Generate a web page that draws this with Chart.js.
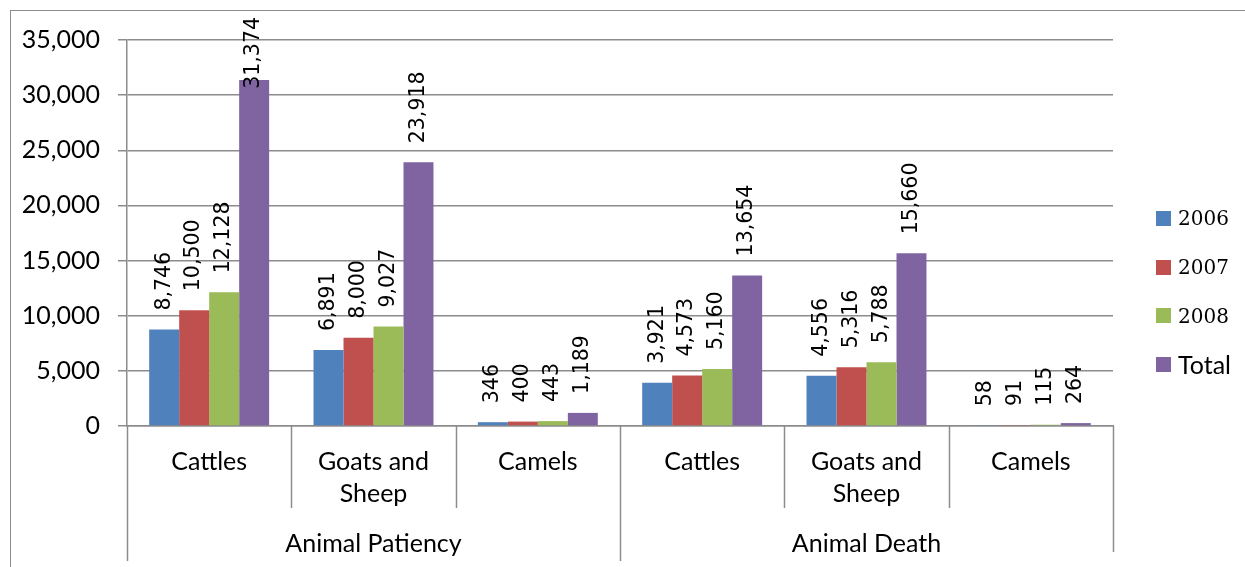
<!DOCTYPE html>
<html>
<head>
<meta charset="utf-8">
<title>Animal patiency and death</title>
<script src="https://cdn.jsdelivr.net/npm/chart.js@4.4.1/dist/chart.umd.min.js"></script>
<style>
  body { margin: 0; background: #fff; }
  #wrap { position: relative; width: 1245px; height: 567px; }
  #frame { position: absolute; left: 10px; top: 10px; width: 1240px; height: 600px; border: 1.5px solid #8c8c8c; box-sizing: border-box; }
  #chartBox { position: absolute; left: 0; top: 0; width: 1245px; height: 567px; }
  #legend { position: absolute; left: 1156px; top: 194px; }
  .item { height: 48.7px; display: flex; align-items: center; }
  .box { width: 15px; height: 15px; margin-right: 7px; }
  .year { font-family: "DejaVu Serif", "Liberation Serif", serif; font-size: 20px; }
  .sans { font-family: "Lato", "Open Sans", sans-serif; font-size: 25px; }
</style>
</head>
<body>
<div id="wrap">
  <div id="frame"></div>
  <div id="chartBox"><canvas id="animalChart" width="1245" height="567"></canvas></div>
  <div id="legend"></div>
</div>
<script>
const categories = ["Cattles", ["Goats and", "Sheep"], "Camels", "Cattles", ["Goats and", "Sheep"], "Camels"];
const groups = ["Animal Patiency", "Animal Death"];
const seriesNames = ["2006", "2007", "2008", "Total"];
const values2006 = [8746, 6891, 346, 3921, 4556, 58];
const values2007 = [10500, 8000, 400, 4573, 5316, 91];
const values2008 = [12128, 9027, 443, 5160, 5788, 115];
const valuesTotal = [31374, 23918, 1189, 13654, 15660, 264];
const colors = ["#4F81BD", "#C0504D", "#9BBB59", "#8064A2"];
const yTicks = [0, 5000, 10000, 15000, 20000, 25000, 30000, 35000];

const allValues = [values2006, values2007, values2008, valuesTotal];
const labelFont = "20.5px 'DejaVu Sans', sans-serif";
const axisFont = "'Lato', 'Open Sans', sans-serif";
const lineColor = "#8c8c8c";

function fmt(n) {
  return n.toLocaleString("en-US");
}

// rotated value labels above each bar
const valueLabels = {
  id: "valueLabels",
  afterDatasetsDraw(chart) {
    const ctx = chart.ctx;
    ctx.save();
    ctx.font = labelFont;
    ctx.fillStyle = "#000";
    ctx.textBaseline = "middle";
    ctx.textAlign = "left";
    chart.data.datasets.forEach(function(ds, i) {
      chart.getDatasetMeta(i).data.forEach(function(bar, j) {
        const text = fmt(ds.data[j]);
        const w = ctx.measureText(text).width;
        let start = bar.y - 19;
        if (start - w < 17) start = 17 + w;
        ctx.save();
        ctx.translate(bar.x, start);
        ctx.rotate(-Math.PI / 2);
        ctx.fillText(text, 0, 0);
        ctx.restore();
      });
    });
    ctx.restore();
  }
};

// category dividers and the outer group row
const groupAxis = {
  id: "groupAxis",
  afterDraw(chart) {
    const ctx = chart.ctx;
    const area = chart.chartArea;
    const n = categories.length;
    const step = (area.right - area.left) / n;
    const per = n / groups.length;
    ctx.save();
    ctx.strokeStyle = lineColor;
    ctx.lineWidth = 1.5;
    for (let i = 0; i <= n; i++) {
      const px = Math.round(area.left + i * step) + 0.5;
      let bottom = 508;
      if (i === 0) bottom = 561;
      else if (i === n) bottom = 552;
      else if (i % per === 0) bottom = 561;
      ctx.beginPath();
      ctx.moveTo(px, area.bottom);
      ctx.lineTo(px, bottom);
      ctx.stroke();
    }
    ctx.fillStyle = "#000";
    ctx.font = "25px " + axisFont;
    ctx.textAlign = "center";
    ctx.textBaseline = "middle";
    groups.forEach(function(g, k) {
      const cx = area.left + (k + 0.5) * per * step;
      ctx.fillText(g, cx, 544);
    });
    ctx.restore();
  }
};

const ctx = document.getElementById("animalChart");
const myChart = new Chart(ctx, {
  type: "bar",
  data: {
    labels: categories,
    datasets: seriesNames.map(function(name, i) {
      return {
        label: name,
        data: allValues[i],
        backgroundColor: colors[i],
        borderWidth: 0,
        categoryPercentage: 0.73,
        barPercentage: 1.0
      };
    })
  },
  options: {
    responsive: false,
    animation: false,
    devicePixelRatio: 1,
    layout: { padding: { top: 40, right: 132, left: 0, bottom: 0 } },
    plugins: {
      legend: { display: false },
      tooltip: { enabled: false }
    },
    scales: {
      x: {
        grid: { display: false },
        border: { color: lineColor, width: 1.5 },
        ticks: {
          color: "#000",
          font: { family: axisFont, size: 25, lineHeight: 1.28 },
          padding: 12,
          maxRotation: 0,
          autoSkip: false
        },
        afterFit: function(scale) { scale.height = 141; }
      },
      y: {
        min: 0,
        max: 35000,
        afterBuildTicks: function(scale) {
          scale.ticks = yTicks.map(function(v) { return { value: v }; });
        },
        grid: { color: lineColor, lineWidth: 1.5, tickLength: 9 },
        border: { color: lineColor, width: 1.5 },
        ticks: {
          color: "#000",
          font: { family: axisFont, size: 25 },
          padding: 18,
          callback: function(v) { return fmt(v); }
        },
        afterFit: function(scale) { scale.width = 127; }
      }
    }
  },
  plugins: [valueLabels, groupAxis]
});

// legend with the year entries in a serif face
const legend = document.getElementById("legend");
seriesNames.forEach(function(name, i) {
  const item = document.createElement("div");
  item.className = "item";
  const cls = /^\d+$/.test(name) ? "year" : "sans";
  item.innerHTML = "<div class='box' style='background:" + colors[i] + "'></div><span class='" + cls + "'>" + name + "</span>";
  legend.appendChild(item);
});
</script>
</body>
</html>
